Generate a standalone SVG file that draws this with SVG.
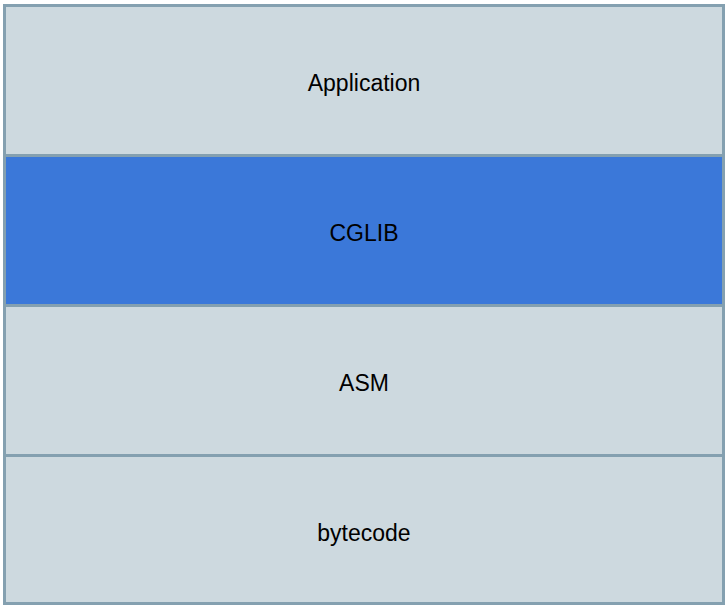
<svg xmlns="http://www.w3.org/2000/svg" width="728" height="606" viewBox="0 0 728 606">
<style>
.box{fill:#cdd9df;stroke:#84a0b0;stroke-width:3}
.blue{fill:#3b78d9}
.lbl{font-family:"Liberation Sans",Arial,sans-serif;font-size:23px;fill:#000;text-anchor:middle}
</style>
<rect width="728" height="606" fill="#ffffff"/>
<g id="application"><rect class="box" x="4.5" y="5.5" width="719" height="150"/><text class="lbl" x="364" y="91">Application</text></g>
<g id="cglib"><rect class="box blue" x="4.5" y="155.5" width="719" height="150"/><text class="lbl" x="364" y="241">CGLIB</text></g>
<g id="asm"><rect class="box" x="4.5" y="305.5" width="719" height="150"/><text class="lbl" x="364" y="391">ASM</text></g>
<g id="bytecode"><rect class="box" x="4.5" y="455.5" width="719" height="148"/><text class="lbl" x="364" y="541">bytecode</text></g>
<g id="connectors"/>
</svg>
